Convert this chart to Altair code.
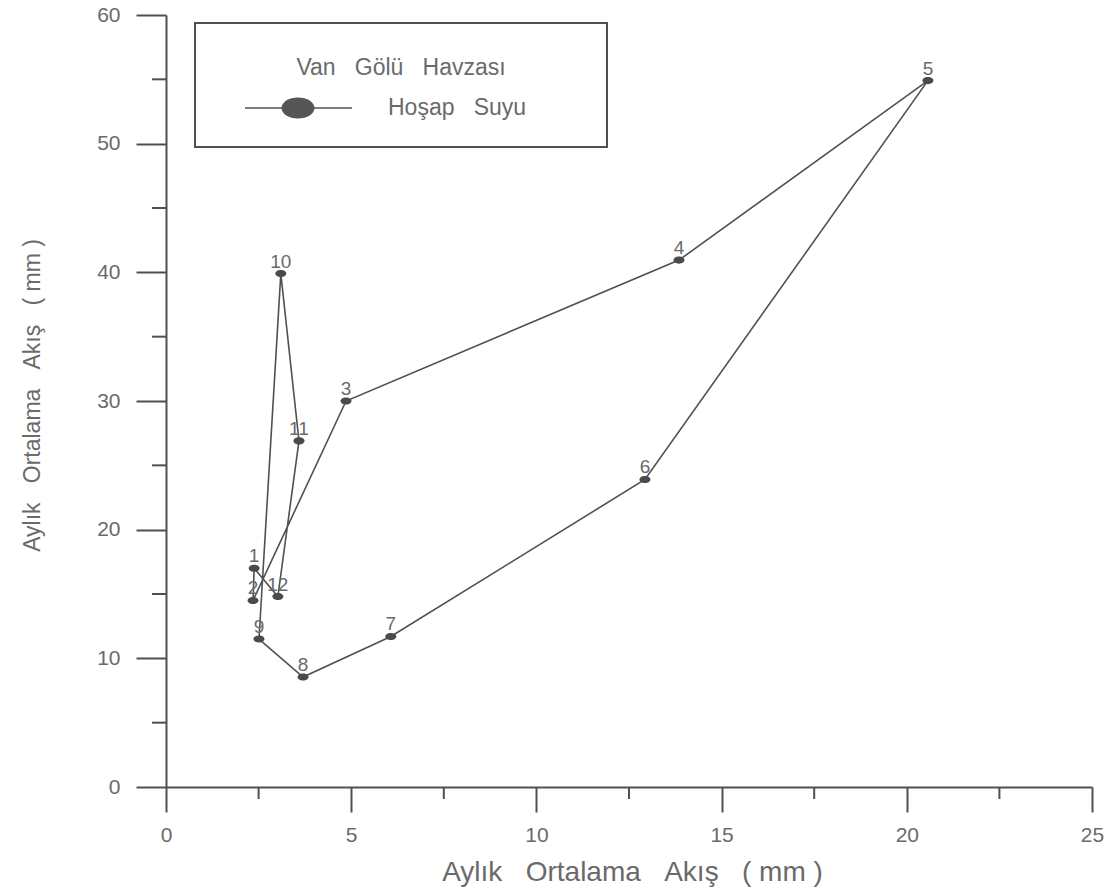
import altair as alt
import pandas as pd

# ---- data ----
months = [1, 2, 3, 4, 5, 6, 7, 8, 9, 10, 11, 12]
x_flow = [2.38, 2.35, 4.86, 13.85, 20.57, 12.93, 6.07, 3.70, 2.51, 3.10, 3.59, 3.02]
y_flow = [17.0, 14.5, 30.0, 40.95, 54.9, 23.9, 11.7, 8.55, 11.5, 39.9, 26.9, 14.8]

x_major = [0, 5, 10, 15, 20, 25]
x_minor = [2.5, 7.5, 12.5, 17.5, 22.5]
y_major = [0, 10, 20, 30, 40, 50, 60]
y_minor = [5, 15, 25, 35, 45, 55]

NB = "\u00a0"
x_title = f"Aylık{NB*3}Ortalama{NB*3}Akış{NB*3}({NB}mm{NB})"
y_title = f"Aylık{NB*3}Ortalama{NB*3}Akış{NB*3}({NB}mm{NB})"
legend_title = f"Van{NB*3}Gölü{NB*3}Havzası"
legend_label = f"Hoşap{NB*3}Suyu"

W, H = 926, 772
FONT = "Liberation Sans"
LINE = "#505050"
TEXT = "#6a6a6a"
ELLIPSE = "M-1,0A1,0.64,0,1,0,1,0A1,0.64,0,1,0,-1,0Z"

pts = pd.DataFrame({"month": months, "x": x_flow, "y": y_flow,
                    "order": months, "label": [str(m) for m in months]})
loop = pd.concat([pts, pts.iloc[[0]].assign(order=13)], ignore_index=True)

xs = alt.Scale(domain=[0, 25], nice=False, zero=False)
ys = alt.Scale(domain=[0, 60], nice=False, zero=False)

xaxis = alt.Axis(values=x_major, tickSize=25, tickColor=LINE, tickWidth=2,
                 domainColor=LINE, domainWidth=2, labelFlush=False,
                 labelPadding=12, labelFont=FONT, labelFontSize=21, labelColor=TEXT,
                 grid=False,
                 title=x_title, titleX=466, titleY=85, titleBaseline="middle",
                 titleAlign="center", titleFontSize=28, titleFont=FONT,
                 titleFontWeight="normal", titleColor=TEXT)
yaxis = alt.Axis(values=y_major, tickSize=30, tickColor=LINE, tickWidth=2,
                 domainColor=LINE, domainWidth=2, labelFlush=False,
                 labelPadding=16, labelFont=FONT, labelFontSize=21, labelColor=TEXT,
                 grid=False,
                 title=y_title, titleX=-134, titleY=380, titleAngle=-90,
                 titleBaseline="middle", titleAlign="center", titleFontSize=23,
                 titleFont=FONT, titleFontWeight="normal", titleColor=TEXT)

line = alt.Chart(loop).mark_line(color=LINE, strokeWidth=1.6).encode(
    x=alt.X("x:Q", scale=xs, axis=xaxis),
    y=alt.Y("y:Q", scale=ys, axis=yaxis),
    order="order:Q",
)
points = alt.Chart(pts).mark_point(shape=ELLIPSE, filled=True, size=121,
                                   color="#4a4a4a", opacity=1).encode(
    x=alt.X("x:Q", scale=xs), y=alt.Y("y:Q", scale=ys))
labels = alt.Chart(pts).mark_text(font=FONT, fontSize=19, color=TEXT,
                                  baseline="middle", dy=-12).encode(
    x=alt.X("x:Q", scale=xs), y=alt.Y("y:Q", scale=ys), text="label:N")

xminor = alt.Chart(pd.DataFrame({"v": x_minor})).mark_rule(
    color=LINE, strokeWidth=2).encode(
    x=alt.X("v:Q", scale=xs), y=alt.value(H), y2=alt.value(H + 12))
yminor = alt.Chart(pd.DataFrame({"v": y_minor})).mark_rule(
    color=LINE, strokeWidth=2).encode(
    y=alt.Y("v:Q", scale=ys), x=alt.value(0), x2=alt.value(-14))

one = pd.DataFrame({"k": [0]})
box = alt.Chart(one).mark_rect(filled=False, stroke=LINE, strokeWidth=2).encode(
    x=alt.value(29), x2=alt.value(441), y=alt.value(8), y2=alt.value(132))
leg_title = alt.Chart(one).mark_text(font=FONT, fontSize=23, color=TEXT,
                                     align="center", baseline="middle").encode(
    x=alt.value(235), y=alt.value(53), text=alt.value(legend_title))
leg_line = alt.Chart(one).mark_rule(color=LINE, strokeWidth=1.6).encode(
    x=alt.value(79), x2=alt.value(186), y=alt.value(93))
leg_dot = alt.Chart(one).mark_point(shape=ELLIPSE, filled=True, size=1089,
                                    color="#555555", opacity=1).encode(
    x=alt.value(132), y=alt.value(93))
leg_label = alt.Chart(one).mark_text(font=FONT, fontSize=23, color=TEXT,
                                     align="left", baseline="middle").encode(
    x=alt.value(222), y=alt.value(93), text=alt.value(legend_label))

chart = alt.layer(line, xminor, yminor, points, labels,
                  box, leg_title, leg_line, leg_dot, leg_label).properties(
    width=W, height=H,
    background="white",
    autosize=alt.AutoSizeParams(type="none"),
    padding={"left": 166, "top": 15, "right": 15, "bottom": 101},
).configure_view(stroke=None)

chart.save("out.html", embed_options={"renderer": "svg", "actions": False})
